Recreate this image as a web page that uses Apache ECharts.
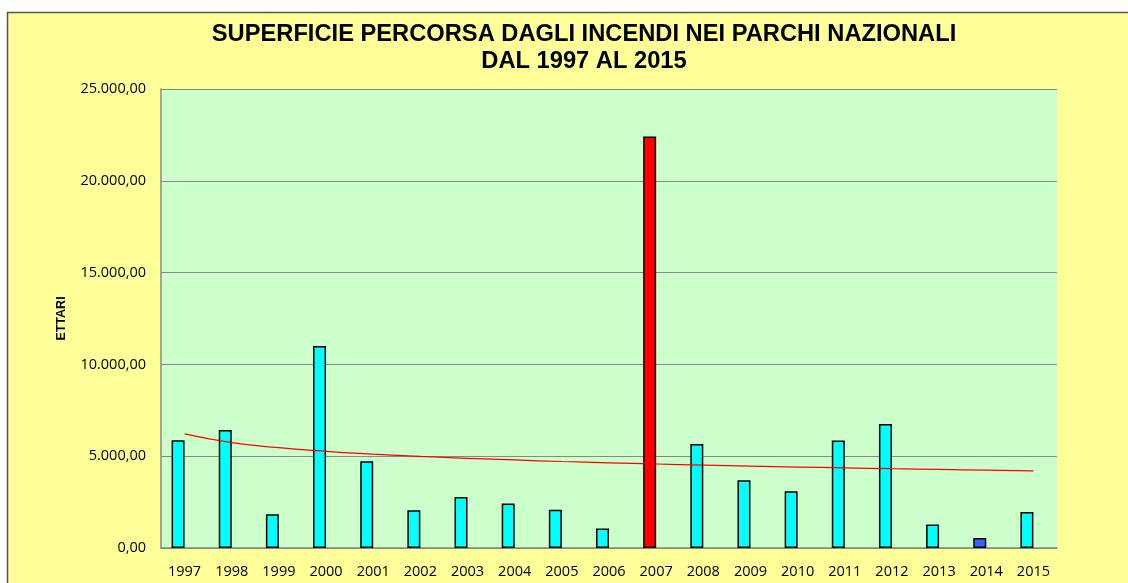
<!DOCTYPE html>
<html>
<head>
<meta charset="utf-8">
<script src="https://cdn.jsdelivr.net/npm/echarts@6/dist/echarts.min.js"></script>
<style>
  html, body { margin: 0; padding: 0; background: #fff; }
  #chart { width: 1128px; height: 583px; }
</style>
</head>
<body>
<div id="chart"></div>
<script>
// anni e superficie percorsa (ettari)
const years = ['1997', '1998', '1999', '2000', '2001', '2002', '2003', '2004', '2005', '2006',
  '2007', '2008', '2009', '2010', '2011', '2012', '2013', '2014', '2015'];
const ettari = [5870, 6430, 1840, 11000, 4730, 2060, 2780, 2420, 2090, 1060,
  22410, 5670, 3690, 3090, 5860, 6750, 1280, 550, 1960];
// linea di tendenza (rossa), valori stimati dal grafico
const tendenza = [6215, 5740, 5465, 5265, 5115, 4990, 4885, 4795, 4710, 4640,
  4575, 4515, 4460, 4410, 4365, 4320, 4280, 4240, 4200];
const yTicks = [0, 5000, 10000, 15000, 20000, 25000];

// colori speciali per alcune barre
const barColors = { '2007': '#FF0000', '2014': '#3366FF' };

const chart = echarts.init(document.getElementById('chart'));

function fmtIt(v) {
  const parts = Math.round(v).toString().replace(/\B(?=(\d{3})+(?!\d))/g, '.');
  return parts + ',00';
}

const option = {
  backgroundColor: '#ffffff',
  animation: false,
  graphic: [
    {
      type: 'rect',
      z: -10,
      shape: { x: 7.5, y: 12.5, width: 1130, height: 580 },
      style: { fill: '#FFFF99', stroke: '#555555', lineWidth: 1.5 }
    }
  ],
  title: {
    text: 'SUPERFICIE PERCORSA DAGLI INCENDI NEI PARCHI NAZIONALI\nDAL 1997 AL 2015',
    left: 579,
    textAlign: 'center',
    top: 16,
    textStyle: {
      fontFamily: 'Liberation Sans',
      fontWeight: 'bold',
      fontSize: 23.7,
      lineHeight: 27,
      color: '#000'
    }
  },
  grid: {
    left: 161,
    top: 89,
    right: 71,
    bottom: 35,
    show: true,
    backgroundColor: '#CCFFCC',
    borderWidth: 0
  },
  xAxis: {
    type: 'category',
    data: years,
    axisLine: { lineStyle: { color: '#888888', width: 1.5 } },
    axisTick: { show: false },
    axisLabel: {
      margin: 16,
      fontFamily: 'Open Sans',
      fontSize: 14.5,
      color: '#000'
    }
  },
  yAxis: {
    type: 'value',
    min: yTicks[0],
    max: yTicks[yTicks.length - 1],
    interval: 5000,
    name: 'ETTARI',
    nameLocation: 'middle',
    nameGap: 93,
    nameRotate: 90,
    nameTextStyle: {
      fontFamily: 'Liberation Sans',
      fontWeight: 'bold',
      fontSize: 12.5,
      color: '#000'
    },
    axisLine: { show: true, lineStyle: { color: '#888888', width: 1.5 } },
    axisTick: { show: false },
    splitLine: { lineStyle: { color: '#888888', width: 1.2 } },
    axisLabel: {
      margin: 15,
      fontFamily: 'Open Sans',
      fontSize: 14.5,
      color: '#000',
      formatter: fmtIt
    }
  },
  series: [
    {
      type: 'bar',
      data: ettari.map((v, i) => ({
        value: v,
        itemStyle: { color: barColors[years[i]] || '#00FFFF' }
      })),
      barWidth: 13,
      barGap: '0%',
      itemStyle: { borderColor: '#000', borderWidth: 1.5 },
      z: 2
    },
    {
      // serie vuota: nel grafico originale le barre sono spostate a sinistra
      type: 'bar',
      data: [],
      barWidth: 13,
      barGap: '0%'
    },
    {
      type: 'line',
      data: tendenza,
      smooth: true,
      symbol: 'none',
      lineStyle: { color: '#FF0000', width: 1.2 },
      z: 3
    }
  ]
};

chart.setOption(option);
</script>
</body>
</html>
